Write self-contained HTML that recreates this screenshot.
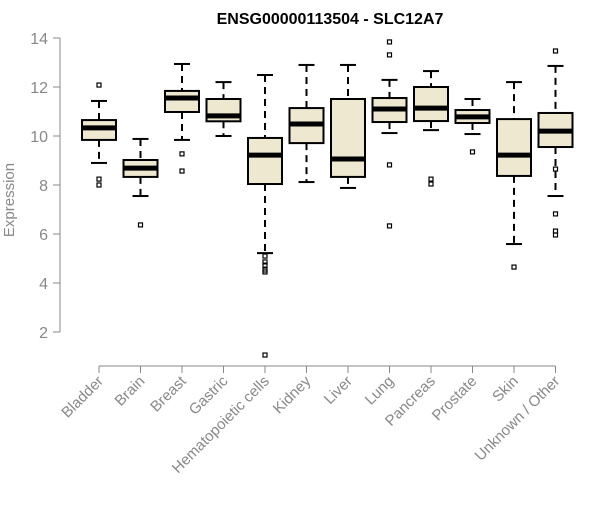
<!DOCTYPE html>
<html><head><meta charset="utf-8"><style>
body{margin:0;background:#fff}
svg text{font-family:"Liberation Sans",Arial,sans-serif}
</style></head><body>
<svg id="chart" width="600" height="500" xmlns="http://www.w3.org/2000/svg">
<rect width="600" height="500" fill="#fff"/>
<text x="330" y="24" text-anchor="middle" font-weight="bold" font-size="16">ENSG00000113504 - SLC12A7</text>
<text transform="translate(14,200) rotate(-90)" text-anchor="middle" font-size="15" fill="#888">Expression</text>
<g id="axes"></g><g id="boxes"></g>
</svg>
<script>
const categories=["Bladder","Brain","Breast","Gastric","Hematopoietic cells","Kidney","Liver","Lung","Pancreas","Prostate","Skin","Unknown / Other"];
const whiskerHigh=[11.43,9.88,12.94,12.2,12.49,12.9,12.9,12.29,12.65,11.51,12.2,12.86];
const q3=[10.65,9.02,11.84,11.51,9.92,11.14,11.51,11.55,12.0,11.06,10.69,10.94];
const medians=[10.33,8.69,11.55,10.82,9.22,10.49,9.06,11.1,11.14,10.78,9.22,10.2];
const q1=[9.84,8.33,10.98,10.6,8.04,9.71,8.33,10.57,10.61,10.53,8.37,9.55];
const whiskerLow=[8.9,7.55,9.84,10.0,5.22,8.12,7.88,10.12,10.24,10.08,5.59,7.55];
const outliers=[[12.08,8.24,8.0],[6.37],[9.27,8.57],[],[5.1,4.86,4.73,4.53,4.45,1.06],[],[],[13.84,13.31,8.82,6.33],[8.24,8.04],[9.35],[4.65],[13.47,8.65,6.82,6.12,5.96]];
const yTicks=[2,4,6,8,10,12,14];
const NS="http://www.w3.org/2000/svg";
const y=v=>38+(14-v)*24.5;
const x=i=>99+i*41.5;
function mk(parent,tag,attrs){const e=document.createElementNS(NS,tag);for(const k in attrs)e.setAttribute(k,attrs[k]);parent.appendChild(e);return e;}
const ax=document.getElementById('axes'),bx=document.getElementById('boxes');
let l=mk(ax,'line',{x1:60,x2:60,y1:y(14),y2:y(2),stroke:'#888'});


yTicks.forEach(t=>{
 const tk=mk(ax,'line',{x1:53,x2:60,y1:y(t),y2:y(t),stroke:'#888'});
 
 
 const tx=mk(ax,'text',{x:48,y:y(t)+6,'text-anchor':'end','font-size':16,fill:'#888'});tx.textContent=t;
 
 
});
l=mk(ax,'line',{x1:x(0),x2:x(categories.length-1),y1:366,y2:366,stroke:'#888'});


categories.forEach((c,i)=>{
 const cx=x(i);
 const tk=mk(ax,'line',{x1:cx,x2:cx,y1:366,y2:373,stroke:'#888'});
 
 
 const tx=mk(ax,'text',{x:cx+5,y:382,'text-anchor':'end','font-size':15,fill:'#888',transform:`rotate(-45 ${cx+5} 382)`});tx.textContent=c;
 
 
 const g=mk(bx,'g',{});
 
 
 mk(g,'line',{x1:cx,x2:cx,y1:y(whiskerHigh[i]),y2:y(q3[i]),stroke:'#000','stroke-width':2,'stroke-dasharray':'7,5'});
 mk(g,'line',{x1:cx,x2:cx,y1:y(q1[i]),y2:y(whiskerLow[i]),stroke:'#000','stroke-width':2,'stroke-dasharray':'7,5'});
 mk(g,'line',{x1:cx-8,x2:cx+8,y1:y(whiskerHigh[i]),y2:y(whiskerHigh[i]),stroke:'#000','stroke-width':2});
 mk(g,'line',{x1:cx-8,x2:cx+8,y1:y(whiskerLow[i]),y2:y(whiskerLow[i]),stroke:'#000','stroke-width':2});
 mk(g,'rect',{x:cx-17,y:y(q3[i]),width:34,height:y(q1[i])-y(q3[i]),fill:'#EEE8D0',stroke:'#000','stroke-width':2});
 mk(g,'line',{x1:cx-17,x2:cx+17,y1:y(medians[i]),y2:y(medians[i]),stroke:'#000','stroke-width':5});
 outliers[i].forEach(o=>{
  const p=mk(g,'rect',{x:cx-2,y:y(o)-2,width:4,height:4,fill:'none',stroke:'#000','stroke-width':1.2});
  
  
 });
});
</script>
</body></html>
